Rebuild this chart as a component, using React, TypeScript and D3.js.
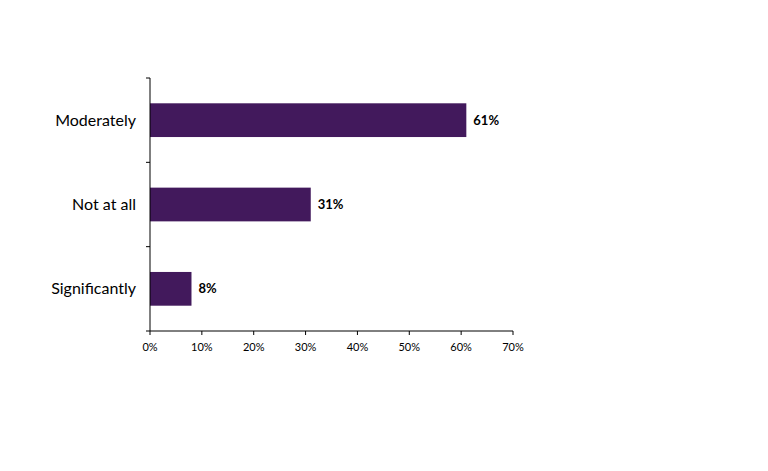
import React from "react";
import * as d3 from "d3";

const categories = ["Moderately", "Not at all", "Significantly"];
const values = [61, 31, 8];
const xTicks = [0, 10, 20, 30, 40, 50, 60, 70];

export default function App() {
  const width = 768;
  const height = 471;
  const left = 150;
  const right = 513;
  const top = 78;
  const bottom = 331;
  const x = d3.scaleLinear().domain([0, 70]).range([left, right]);
  const y = d3.scaleBand<string>().domain(categories).range([top, bottom]).paddingInner(0.6).paddingOuter(0.3);
  const yEdges = d3.range(categories.length + 1).map((i) => top + (i * (bottom - top)) / categories.length);
  const color = "#42195c";
  return (
    <svg width={width} height={height} style={{ position: "absolute", left: 0, top: 0, background: "#fff" }}>
      {categories.map((c, i) => (
        <g key={c}>
          <rect x={x(0)} y={y(c)!} width={x(values[i]) - x(0)} height={y.bandwidth()} fill={color} />
          <text x={x(values[i]) + 7} y={y(c)! + y.bandwidth() / 2} dy="0.35em" fontFamily="Lato, 'Open Sans', sans-serif" fontWeight="bold" fontSize={13} fill="#000">
            {values[i]}%
          </text>
          <text x={left - 14} y={y(c)! + y.bandwidth() / 2} dy="0.35em" textAnchor="end" fontFamily="Lato, 'Noto Sans', sans-serif" fontSize={16} fill="#000">
            {c}
          </text>
        </g>
      ))}
      <line x1={left} x2={left} y1={top} y2={bottom} stroke="#000" strokeWidth={1} />
      {yEdges.map((e, i) => (
        <line key={i} x1={left - 4} x2={left} y1={e} y2={e} stroke="#000" strokeWidth={1} />
      ))}
      <line x1={left} x2={right} y1={bottom} y2={bottom} stroke="#000" strokeWidth={1} />
      {xTicks.map((t) => (
        <g key={t}>
          <line x1={x(t)} x2={x(t)} y1={bottom} y2={bottom + 4} stroke="#000" strokeWidth={1} />
          <text x={x(t)} y={bottom + 16} dy="0.35em" textAnchor="middle" fontFamily="Lato, 'Open Sans', sans-serif" fontSize={11} fill="#000">
            {t}%
          </text>
        </g>
      ))}
    </svg>
  );
}
